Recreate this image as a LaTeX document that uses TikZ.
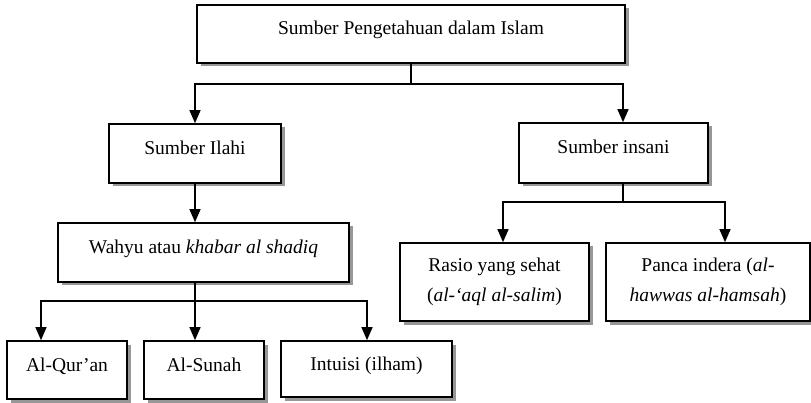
\documentclass[tikz,border=0pt]{standalone}
\usepackage{fontspec}
\setmainfont{Liberation Serif}
\usetikzlibrary{arrows.meta,shadows}

\tikzset{
  srcbox/.style={draw,line width=1.6pt,fill=white,inner sep=0pt,align=center,
    font=\fontsize{19.5}{30}\selectfont,
    drop shadow={shadow xshift=3.5pt,shadow yshift=-3.5pt,fill=black!45,opacity=.9}},
  oneline/.style={text height=14pt,text depth=12pt},
  link/.style={line width=1.3pt},
  linkarrow/.style={line width=1.3pt,-{Triangle[width=11pt,length=13pt]}}
}

\begin{document}
\begin{tikzpicture}[x=1pt,y=-1pt]
\useasboundingbox (0,0) rectangle (811,403);
% boxes
\node[srcbox,oneline,minimum width=428pt,minimum height=58pt] (top) at (411,34) {Sumber Pengetahuan dalam Islam};
\node[srcbox,oneline,minimum width=172pt,minimum height=59pt] (ilahi) at (195,153.5) {Sumber Ilahi};
\node[srcbox,oneline,minimum width=189pt,minimum height=60pt] (insani) at (613.5,153) {Sumber insani};
\node[srcbox,oneline,minimum width=291pt,minimum height=59pt] (wahyu) at (203.5,252.5) {Wahyu atau \textit{khabar al shadiq}};
\node[srcbox,minimum width=189pt,minimum height=78pt] (rasio) at (494.5,282) {Rasio yang sehat\\(\textit{al-‘aql al-salim})};
\node[srcbox,minimum width=204pt,minimum height=78pt] (panca) at (708,282) {Panca indera (\textit{al-}\\\textit{hawwas al-hamsah})};
\node[srcbox,oneline,minimum width=120pt,minimum height=58pt] (quran) at (67,370) {Al-Qur’an};
\node[srcbox,oneline,minimum width=120pt,minimum height=58pt] (sunah) at (204,370) {Al-Sunah};
\node[srcbox,oneline,minimum width=171pt,minimum height=56pt] (intuisi) at (366.5,369) {Intuisi (ilham)};
% branch points
\coordinate (t1) at (411,84);
\coordinate (i1) at (623,202);
\coordinate (w1) at (195,301);
% connectors
\draw[link] (top.south) -- (t1);
\draw[linkarrow] (t1) -| (ilahi.north);
\draw[linkarrow] (t1) -| ([xshift=9.5pt]insani.north);
\draw[linkarrow] (ilahi.south) -- (ilahi.south |- wahyu.north);
\draw[link] ([xshift=9.5pt]insani.south) -- (i1);
\draw[linkarrow] (i1) -| ([xshift=8.5pt]rasio.north);
\draw[linkarrow] (i1) -| ([xshift=17pt]panca.north);
\draw[link] ([xshift=-8.5pt]wahyu.south) -- (w1);
\draw[linkarrow] (w1) -| ([xshift=-26pt]quran.north);
\draw[linkarrow] (w1) -| ([xshift=-9pt]sunah.north);
\draw[linkarrow] (w1) -| ([xshift=0.5pt]intuisi.north);
\end{tikzpicture}
\end{document}
